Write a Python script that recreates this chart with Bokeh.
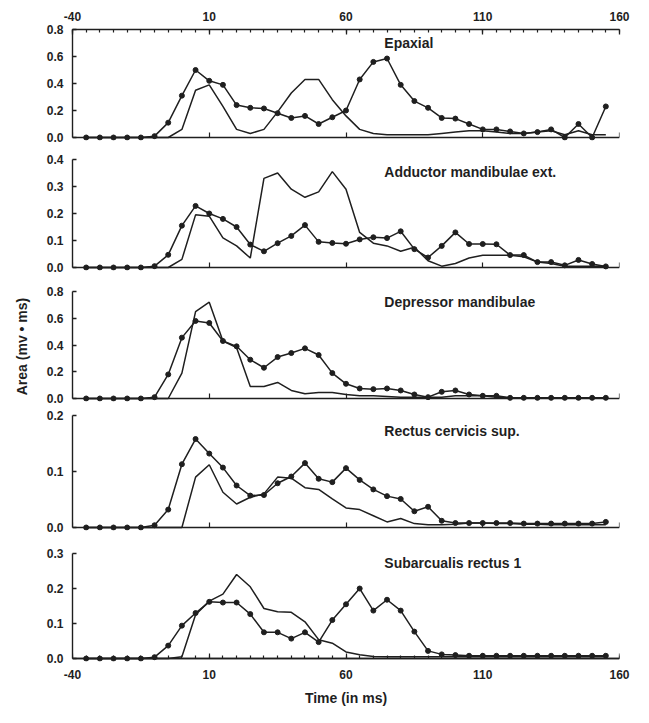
from bokeh.plotting import figure
from bokeh.models import Range1d, LinearAxis, FixedTicker, PrintfTickFormatter
from bokeh.layouts import column
from bokeh.embed import file_html
from bokeh.resources import INLINE
from bokeh.core.properties import value

# ---------------- data ----------------
time_ms = [-35, -30, -25, -20, -15, -10, -5, 0, 5, 10, 15, 20, 25, 30, 35, 40, 45, 50, 55,
           60, 65, 70, 75, 80, 85, 90, 95, 100, 105, 110, 115, 120, 125, 130, 135, 140,
           145, 150, 155]

titles = ["Epaxial", "Adductor mandibulae ext.", "Depressor mandibulae",
          "Rectus cervicis sup.", "Subarcualis rectus 1"]

# series drawn with dots
epaxial_dots = [0, 0, 0, 0, 0, 0.01, 0.11, 0.31, 0.50, 0.42, 0.39, 0.24, 0.22, 0.215, 0.18,
                0.145, 0.16, 0.10, 0.15, 0.20, 0.43, 0.56, 0.585, 0.39, 0.27, 0.22, 0.145,
                0.14, 0.10, 0.06, 0.06, 0.045, 0.03, 0.04, 0.06, 0.0, 0.10, 0.0, 0.23]
adductor_dots = [0, 0, 0, 0, 0, 0.005, 0.047, 0.155, 0.228, 0.20, 0.18, 0.15, 0.085, 0.06,
                 0.09, 0.117, 0.157, 0.095, 0.091, 0.088, 0.104, 0.112, 0.109, 0.134, 0.068,
                 0.037, 0.08, 0.13, 0.087, 0.087, 0.086, 0.046, 0.046, 0.02, 0.02, 0.008,
                 0.028, 0.013, 0.004]
depressor_dots = [0, 0, 0, 0, 0, 0.01, 0.18, 0.455, 0.58, 0.565, 0.43, 0.39, 0.29, 0.23,
                  0.31, 0.34, 0.375, 0.325, 0.19, 0.11, 0.075, 0.07, 0.075, 0.06, 0.03, 0.01,
                  0.05, 0.06, 0.03, 0.02, 0.02, 0.005, 0.005, 0.005, 0.005, 0.005, 0.005,
                  0.005, 0.005]
rectus_dots = [0, 0, 0, 0, 0, 0.004, 0.032, 0.113, 0.158, 0.132, 0.107, 0.075, 0.057, 0.058,
               0.079, 0.091, 0.115, 0.087, 0.081, 0.106, 0.085, 0.068, 0.056, 0.051, 0.029,
               0.037, 0.012, 0.008, 0.008, 0.008, 0.008, 0.008, 0.007, 0.007, 0.007, 0.007,
               0.007, 0.007, 0.01]
subarcualis_dots = [0, 0, 0, 0, 0, 0.004, 0.037, 0.094, 0.13, 0.162, 0.16, 0.16, 0.127,
                    0.075, 0.075, 0.057, 0.075, 0.047, 0.11, 0.155, 0.20, 0.137, 0.168, 0.137,
                    0.077, 0.022, 0.012, 0.01, 0.008, 0.008, 0.008, 0.008, 0.008, 0.008,
                    0.008, 0.008, 0.008, 0.008, 0.008]

# series drawn as plain lines
epaxial_line = [0, 0, 0, 0, 0, 0, 0, 0.06, 0.35, 0.39, 0.23, 0.06, 0.03, 0.06, 0.19, 0.33,
                0.43, 0.43, 0.28, 0.16, 0.06, 0.03, 0.02, 0.02, 0.02, 0.02, 0.03, 0.04, 0.05,
                0.05, 0.04, 0.03, 0.03, 0.04, 0.05, 0.02, 0.05, 0.02, 0.02]
adductor_line = [0, 0, 0, 0, 0, 0, 0, 0.03, 0.195, 0.19, 0.11, 0.08, 0.035, 0.33, 0.35, 0.29,
                 0.26, 0.28, 0.355, 0.29, 0.13, 0.09, 0.08, 0.06, 0.075, 0.025, 0.005, 0.015,
                 0.035, 0.045, 0.045, 0.045, 0.04, 0.02, 0.015, 0.005, 0.005, 0.005, 0.005]
depressor_line = [0, 0, 0, 0, 0, 0, 0, 0.19, 0.65, 0.72, 0.43, 0.38, 0.09, 0.09, 0.12, 0.06,
                  0.035, 0.045, 0.045, 0.03, 0.02, 0.02, 0.015, 0.01, 0.01, 0.01, 0.01, 0.02,
                  0.02, 0.02, 0.01, 0.005, 0.005, 0.005, 0.005, 0.005, 0.005, 0.005, 0.005]
rectus_line = [0, 0, 0, 0, 0, 0, 0, 0, 0.09, 0.112, 0.063, 0.042, 0.054, 0.06, 0.09, 0.088,
               0.071, 0.068, 0.051, 0.035, 0.032, 0.021, 0.01, 0.016, 0.007, 0.005, 0.005,
               0.006, 0.008, 0.008, 0.007, 0.007, 0.006, 0.006, 0.005, 0.005, 0.005, 0.005,
               0.005]
subarcualis_line = [0, 0, 0, 0, 0, 0, 0, 0.005, 0.125, 0.164, 0.184, 0.24, 0.205, 0.143,
                    0.134, 0.132, 0.105, 0.054, 0.044, 0.019, 0.011, 0.006, 0.005, 0.005,
                    0.005, 0.005, 0.005, 0.005, 0.005, 0.005, 0.005, 0.005, 0.005, 0.005,
                    0.005, 0.005, 0.005, 0.005, 0.005]

dot_series = [epaxial_dots, adductor_dots, depressor_dots, rectus_dots, subarcualis_dots]
line_series = [epaxial_line, adductor_line, depressor_line, rectus_line, subarcualis_line]

y_max = [0.8, 0.4, 0.8, 0.2, 0.3]
y_ticks = [[0.0, 0.2, 0.4, 0.6, 0.8], [0.0, 0.1, 0.2, 0.3, 0.4], [0.0, 0.2, 0.4, 0.6, 0.8],
           [0.0, 0.1, 0.2], [0.0, 0.1, 0.2, 0.3]]
x_ticks = [-40, 10, 60, 110, 160]
x_tick_labels = {-40: "-40", 10: "10", 60: "60", 110: "110", 160: "160"}
x_minor = list(range(-40, 161, 5))

# ---------------- style / layout ----------------
FONT = "Liberation Sans"
INK = "#1f1f1f"
LEFT, RIGHT, FRAME_W = 72, 12, 547
tops = [29, 12, 14, 8, 16]
frames = [108, 108, 107, 112, 108]
bottoms = [10, 10, 9, 10, 47]
PADPX = 3
# title heights, in each panel's own data units
title_y = [0.70, 0.355, 0.72, 0.172, 0.272]


def style_axis(ax, label_size="12px"):
    ax.axis_line_color = INK
    ax.axis_line_width = 1.4
    ax.major_tick_line_color = INK
    ax.major_tick_line_width = 1.3
    ax.minor_tick_line_color = INK
    ax.minor_tick_line_width = 1.2
    ax.major_tick_in = 5
    ax.major_tick_out = 0
    ax.minor_tick_in = 0
    ax.minor_tick_out = 0
    ax.major_label_text_font = FONT
    ax.major_label_text_font_style = "bold"
    ax.major_label_text_font_size = label_size
    ax.major_label_text_color = INK


def baseline_axis(minor_ticks, tick_len):
    # axis drawn at y = 0 with inward tick marks only (no labels)
    ax = LinearAxis(ticker=FixedTicker(ticks=[], minor_ticks=minor_ticks),
                    bounds=(-40, 160), fixed_location=0)
    style_axis(ax)
    ax.minor_tick_in = tick_len
    return ax


figs = []
for k in range(5):
    ymax = y_max[k]
    pad = ymax * PADPX / frames[k]
    h = tops[k] + frames[k] + bottoms[k]
    p = figure(width=LEFT + FRAME_W + RIGHT, height=h,
               x_range=Range1d(-40, 160), y_range=Range1d(-pad, ymax),
               output_backend="svg", toolbar_location=None,
               x_axis_location=None, y_axis_location=None,
               min_border_left=LEFT, min_border_right=RIGHT,
               min_border_top=tops[k], min_border_bottom=bottoms[k] - PADPX)
    p.outline_line_color = None
    p.xgrid.visible = False
    p.ygrid.visible = False
    p.background_fill_color = "white"
    p.border_fill_color = "white"

    # y axis
    yax = LinearAxis(ticker=FixedTicker(ticks=y_ticks[k]), bounds=(0, ymax),
                     formatter=PrintfTickFormatter(format="%.1f"))
    style_axis(yax)
    yax.major_tick_in = 4
    yax.major_label_standoff = 9
    if k == 2:
        yax.axis_label = "Area (mv \u2022 ms)"
        yax.axis_label_text_font = FONT
        yax.axis_label_text_font_style = "bold"
        yax.axis_label_text_font_size = "14px"
        yax.axis_label_text_color = INK
        yax.axis_label_standoff = 14
    p.add_layout(yax, "left")

    # baseline axis at y = 0
    p.add_layout(baseline_axis(x_ticks, 5), "below")
    if k == 4:
        p.add_layout(baseline_axis(x_minor, 3), "below")
        lab = LinearAxis(ticker=FixedTicker(ticks=x_ticks), bounds=(-40, 160),
                         major_label_overrides=x_tick_labels)
        style_axis(lab)
        lab.axis_line_color = None
        lab.major_tick_in = 0
        lab.major_label_standoff = 8
        lab.axis_label = "Time (in ms)"
        lab.axis_label_text_font = FONT
        lab.axis_label_text_font_style = "bold"
        lab.axis_label_text_font_size = "14px"
        lab.axis_label_text_color = INK
        lab.axis_label_standoff = 8
        p.add_layout(lab, "below")

    if k == 0:
        tax = LinearAxis(ticker=FixedTicker(ticks=x_ticks, minor_ticks=x_minor),
                         bounds=(-40, 160), major_label_overrides=x_tick_labels)
        style_axis(tax)
        tax.minor_tick_in = 3
        tax.major_label_standoff = 9
        p.add_layout(tax, "above")

    p.line(time_ms, line_series[k], line_color=INK, line_width=1.5)
    p.line(time_ms, dot_series[k], line_color=INK, line_width=1.5)
    p.scatter(time_ms, dot_series[k], size=5, fill_color=INK, line_color=INK)

    p.text(x=[74], y=[title_y[k]], text=[titles[k]],
           text_font=value(FONT), text_font_style="bold", text_font_size="14px",
           text_baseline="middle", text_align="left", text_color=INK)
    figs.append(p)

layout = column(*figs, spacing=0)
open("out.html", "w").write(file_html(layout, INLINE))
